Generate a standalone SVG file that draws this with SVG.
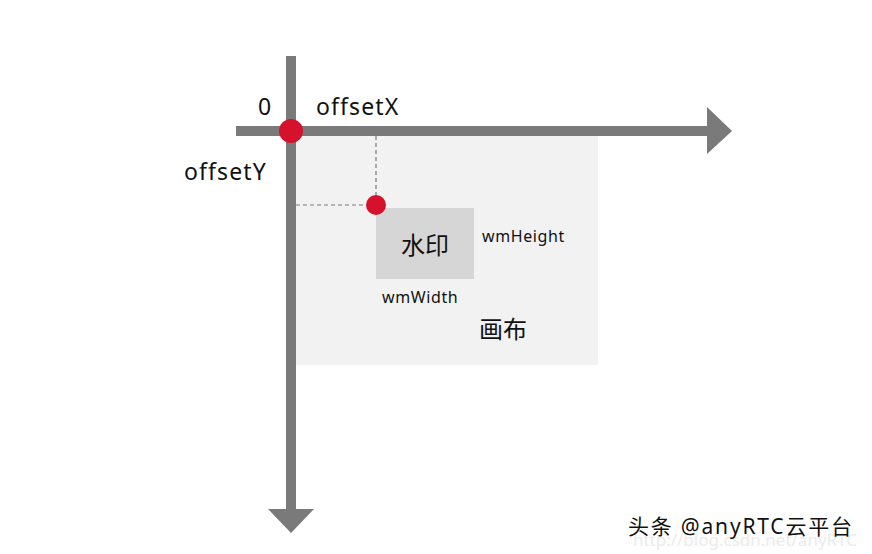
<svg xmlns="http://www.w3.org/2000/svg" width="872" height="554" viewBox="0 0 872 554">
<style>
.t{font-family:"Noto Sans","Noto Sans CJK SC",sans-serif;fill:#111}
.big{font-size:23px;letter-spacing:1.1px}
.small{font-size:16px;letter-spacing:0.6px}
.axis{fill:#7a7a7a}
.dash{stroke:#7a7a7a;stroke-width:1.2;stroke-dasharray:4 3;fill:none}
.dot{fill:#d6112b}
</style>
<rect width="872" height="554" fill="#ffffff"/>
<g id="canvas">
<rect x="291" y="131" width="307" height="234" fill="#f2f2f2"/>
<text class="t" x="479" y="338" font-size="24">画布</text>
</g>
<g id="connectors">
<path class="dash" d="M376 136 V205 M296 205 H376"/>
</g>
<g id="x-axis">
<rect class="axis" x="236" y="126" width="474" height="10"/>
<polygon class="axis" points="707,107 732,131 707,154"/>
</g>
<g id="y-axis">
<rect class="axis" x="286" y="56" width="10" height="455"/>
<polygon class="axis" points="268,509 314,509 291,533"/>
</g>
<g id="origin">
<circle class="dot" cx="291" cy="131" r="12"/>
<text class="t big" x="258" y="115">0</text>
<text class="t big" x="316" y="115">offsetX</text>
<text class="t big" x="184" y="180">offsetY</text>
</g>
<g id="watermark">
<rect x="376" y="208" width="98" height="71" fill="#d6d6d6"/>
<text class="t" x="425" y="254" font-size="24" text-anchor="middle" fill="#333">水印</text>
<circle class="dot" cx="376" cy="205" r="10"/>
<text class="t small" x="482" y="242">wmHeight</text>
<text class="t small" x="382" y="303">wmWidth</text>
</g>
<g id="credit">
<text x="857" y="546" font-size="17" text-anchor="end" font-family="Noto Sans,sans-serif" fill="#ebebeb">http://blog.csdn.net/anyRTC</text>
<text class="t" x="628" y="534" font-size="21" letter-spacing="1.8">头条 @anyRTC云平台</text>
</g>
</svg>
